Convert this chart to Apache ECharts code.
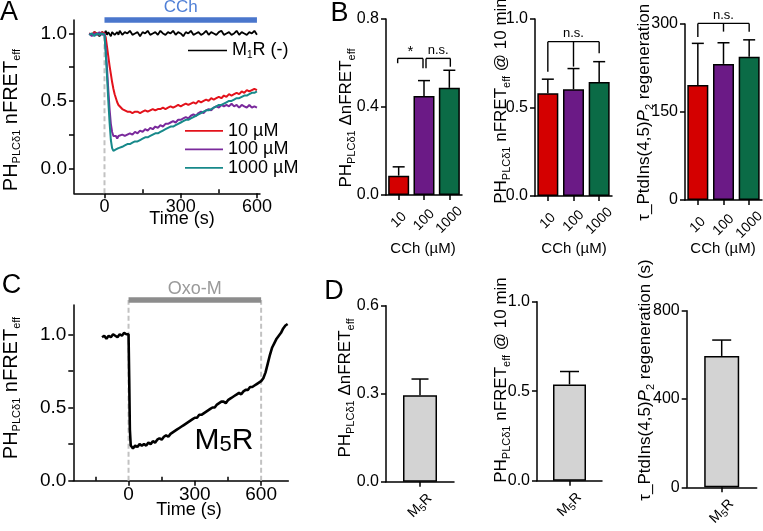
<!DOCTYPE html>
<html><head><meta charset="utf-8">
<script src="https://cdn.jsdelivr.net/npm/echarts@6/dist/echarts.min.js"></script>
<style>html,body{margin:0;padding:0;background:#fff}#c{width:763px;height:531px}</style>
</head><body><div id="c"></div><script>
// ---------------- DATA ----------------
const timeA = [-60,-50,-40,-30,-20,-10,0,5,10,15,20,25,30,35,40,45,50,55,60,
70,80,90,100,110,120,130,140,150,160,170,180,190,200,210,220,230,240,250,260,270,280,290,300,
310,320,330,340,350,360,370,380,390,400,410,420,430,440,450,460,470,480,490,500,510,520,530,540,
550,560,570,580,590,600];
const m1rNoAgonist = [1.00,0.99,1.01,1.00,0.98,1.01,
1.00,1.02,0.99,1.01,1.00,0.98,1.01,1.02,0.99,1.00,1.01,0.99,1.02,
0.99,1.01,1.00,1.02,0.99,1.00,1.01,0.98,1.01,1.00,
1.02,0.99,1.00,1.01,0.99,1.02,1.00,0.99,1.01,1.00,
1.02,0.99,1.01,1.00,0.98,1.01,1.00,1.02,0.99,1.00,
1.01,0.99,1.00,1.02,0.99,1.01,1.00,0.99,1.01,1.02,
0.99,1.00,1.01,0.99,1.00,1.02,0.99,1.01,1.00,0.99,
1.01,1.00,1.02,0.99];
const cch10 = [1.00,0.99,1.01,1.00,0.99,1.01,
1.00,0.97,0.90,0.83,0.76,0.70,0.64,0.59,0.55,0.52,0.49,0.47,0.46,
0.44,0.43,0.42,0.42,0.41,0.42,0.42,0.41,0.42,0.43,
0.42,0.43,0.44,0.43,0.44,0.44,0.45,0.44,0.45,0.46,
0.45,0.46,0.47,0.46,0.47,0.48,0.47,0.48,0.49,0.48,
0.50,0.49,0.50,0.51,0.50,0.52,0.51,0.52,0.53,0.52,
0.54,0.53,0.55,0.54,0.55,0.56,0.55,0.57,0.56,0.58,
0.57,0.58,0.59,0.58];
const cch100 = [1.00,0.98,1.00,0.99,1.01,0.99,
1.00,0.88,0.74,0.58,0.44,0.33,0.27,0.24,0.23,0.24,0.22,0.24,0.23,
0.25,0.24,0.25,0.26,0.25,0.27,0.26,0.28,0.27,0.29,
0.28,0.30,0.29,0.31,0.30,0.32,0.31,0.33,0.33,0.34,
0.35,0.34,0.36,0.36,0.37,0.38,0.37,0.39,0.40,0.39,
0.41,0.42,0.41,0.43,0.44,0.43,0.45,0.46,0.45,0.47,
0.46,0.47,0.46,0.48,0.46,0.47,0.45,0.47,0.46,0.45,
0.47,0.45,0.46,0.45];
const cch1000 = [0.99,1.00,0.98,1.00,0.99,1.00,
0.99,0.85,0.68,0.50,0.34,0.21,0.15,0.13,0.14,0.14,0.15,0.15,0.16,
0.16,0.17,0.18,0.18,0.19,0.20,0.20,0.21,0.22,0.23,
0.23,0.24,0.25,0.26,0.26,0.27,0.28,0.29,0.30,0.31,
0.31,0.32,0.33,0.34,0.35,0.36,0.36,0.37,0.38,0.39,
0.40,0.41,0.42,0.43,0.43,0.44,0.45,0.46,0.47,0.47,
0.48,0.49,0.50,0.50,0.51,0.52,0.52,0.53,0.54,0.54,
0.55,0.56,0.56,0.57];
const timeC = [-120,-110,-100,-90,-80,-70,-60,-50,-40,-30,-20,-10,0,3,6,
10,20,30,40,50,60,70,80,90,100,110,120,130,140,150,160,170,180,190,200,
210,220,230,240,250,260,270,280,290,300,310,320,330,340,350,360,370,380,390,400,
410,420,430,440,450,460,470,480,490,500,510,520,530,540,550,560,570,580,590,600,
610,620,630,640,650,660,670,680,690,700,710,720];
const m5rOxoM = [0.98,0.99,0.97,0.99,0.98,1.00,0.99,0.98,1.00,0.99,1.01,1.00,1.00,0.70,0.35,
0.24,0.22,0.24,0.23,0.25,0.24,0.25,0.24,0.26,0.25,
0.27,0.26,0.28,0.29,0.28,0.30,0.31,0.30,0.32,0.33,
0.34,0.35,0.36,0.37,0.38,0.39,0.40,0.41,0.42,0.43,
0.43,0.45,0.45,0.46,0.47,0.48,0.49,0.50,0.50,0.52,
0.53,0.54,0.54,0.53,0.55,0.56,0.57,0.58,0.59,0.60,
0.59,0.61,0.62,0.62,0.64,0.64,0.65,0.66,0.67,0.68,
0.70,0.74,0.80,0.86,0.91,0.94,0.97,0.99,1.01,1.04,
1.06,1.07];
const stimA = [[0, 600]];
const stimC = [[0, 600]];

const cchCategories = ['10', '100', '1000'];
const deltaMean = [0.088, 0.45, 0.487];
const deltaSem  = [0.040, 0.070, 0.080];
const tenMinMean = [0.58, 0.603, 0.644];
const tenMinSem  = [0.08, 0.117, 0.115];
const tauMean = [196, 232, 244];
const tauSem  = [71, 36, 29];

const m5Categories = ['M5R'];
const m5DeltaMean = [0.295];
const m5DeltaSem  = [0.055];
const m5TenMinMean = [0.538];
const m5TenMinSem  = [0.072];
const m5TauMean = [595];
const m5TauSem  = [72];

const yTicksA = [0, 0.25, 0.5, 0.75, 1.0];
const yLabelsA = [0, 0.5, 1.0];
const xTicksMajor = [0, 300, 600];
const xTicksMinorA = [150, 450];
const xTicksMinorC = [-150, 150, 450];

// significance annotations (category indices, y level in data units)
const bracketsB1 = [
  {cats:[0,1], dx:[-1,-1], y:0.621, legBottoms:[0.599,0.576], label:'*'},
  {cats:[1,2], dx:[2,1], y:0.621, legBottoms:[0.576,0.583], label:'n.s.'}
];
const bracketsB2 = [{cats:[0,1,2], dx:[0,0,0], y:0.872, legBottoms:[0.702,0.731,0.806], label:'n.s.'}];
const bracketsB3 = [{cats:[0,1,2], dx:[0,0,0], y:301, legBottoms:[278,287,287], label:'n.s.'}];

// ---------------- STYLE ----------------
const FONT = '"Liberation Sans", Arial, Helvetica, sans-serif';
const traceColors = {m1r:'#000000', c10:'#e3121b', c100:'#7a2a9c', c1000:'#17898a'};
const barColors = ['#d40000', '#6b1a86', '#0b6b46'];
const grayBar = '#d3d3d3';

const chart = echarts.init(document.getElementById('c'), null, {renderer:'canvas'});

function pairs(t, v){ return t.map((x,i)=>[x, v[i]]); }

const axLine = {show:true, onZero:false, lineStyle:{color:'#000', width:1.5}};
function valueY(gi, min, max, interval, fs, fmt, extra){
  return Object.assign({type:'value', gridIndex:gi, min, max, interval,
    axisLine:axLine, splitLine:{show:false},
    axisTick:{show:true, length:5, lineStyle:{color:'#000', width:1.5}},
    axisLabel:{color:'#000', fontSize:fs, fontFamily:FONT, margin:7, formatter:fmt}}, extra||{});
}
function catX(gi, cats, fs, margin, fmt, rich){
  return {type:'category', gridIndex:gi, data:cats, axisLine:axLine,
    axisTick:{show:true, alignWithLabel:true, length:5, lineStyle:{color:'#000', width:1.5}},
    axisLabel:{color:'#000', fontSize:fs, fontFamily:FONT, rotate:45, align:'center', verticalAlign:'middle',
      margin, interval:0, formatter:fmt, rich}};
}
function timeX(gi, min, max, fs){
  return {type:'value', gridIndex:gi, min, max, position:'bottom', axisLine:axLine, splitLine:{show:false},
    axisTick:{show:true, length:5, customValues:xTicksMajor, lineStyle:{color:'#000', width:1.5}},
    axisLabel:{color:'#000', fontSize:fs, fontFamily:FONT, margin:5, customValues:xTicksMajor}};
}
function minorX(gi, min, max, vals){
  return {type:'value', gridIndex:gi, min, max, position:'bottom', axisLine:{show:false, onZero:false}, splitLine:{show:false},
    axisTick:{show:true, inside:true, length:4, customValues:vals, lineStyle:{color:'#000', width:1.5}},
    axisLabel:{show:false}};
}
const f1 = v => v.toFixed(1);
const f0 = v => String(Math.round(v));

function errRender(capW){
  return function(params, api){
    const x = api.value(0), m = api.value(1), t = api.value(2);
    const p0 = api.coord([x, m]), p1 = api.coord([x, t]);
    const st = {stroke:'#000', lineWidth:1.5};
    return {type:'group', children:[
      {type:'line', shape:{x1:p0[0], y1:p0[1], x2:p1[0], y2:p1[1]}, style:st},
      {type:'line', shape:{x1:p1[0]-capW/2, y1:p1[1], x2:p1[0]+capW/2, y2:p1[1]}, style:st}
    ]};
  };
}
function errData(mean, sem){ return mean.map((m,i)=>[i, m, m+sem[i]]); }

function bracketRender(list){
  return function(params, api){
    const b = list[params.dataIndex];
    const st = {stroke:'#000', lineWidth:1.4};
    const pts = b.cats.map((c,i)=>{ const p = api.coord([c, b.y]); return [p[0]+b.dx[i], p[1]]; });
    const L = pts[0], R = pts[pts.length-1];
    const ch = [{type:'line', shape:{x1:L[0], y1:L[1], x2:R[0], y2:R[1]}, style:st}];
    b.cats.forEach((c,i)=>{
      const bot = api.coord([c, b.legBottoms[i]]);
      ch.push({type:'line', shape:{x1:pts[i][0], y1:pts[i][1], x2:pts[i][0], y2:bot[1]}, style:st});
    });
    const isStar = b.label === '*';
    ch.push({type:'text', x:(L[0]+R[0])/2, y:L[1] - (isStar ? 7 : 8),
      style:{text:b.label, fill:'#000', fontSize:isStar?15:13, fontFamily:FONT, align:'center', verticalAlign:'middle'}});
    return {type:'group', children:ch};
  };
}

function stimRender(spec){
  return function(params, api){
    const s = api.value(0), e = api.value(1);
    const a = api.coord([s, spec.barY]), b = api.coord([e, spec.barY]);
    const ch = [];
    spec.dashAt.forEach(t=>{
      const p = api.coord([t, spec.dashFrom]), q = api.coord([t, spec.dashTo]);
      ch.push({type:'line', shape:{x1:p[0], y1:p[1], x2:q[0], y2:q[1]},
        style:{stroke:'#c2c2c2', lineWidth:2, lineDash:[5,3]}});
    });
    ch.push({type:'rect', shape:{x:a[0], y:a[1]-2.75, width:b[0]-a[0], height:5.5}, style:{fill:spec.color}});
    ch.push({type:'text', x:(a[0]+b[0])/2, y:a[1]-spec.labelGap,
      style:{text:spec.label, fill:spec.labelColor, fontSize:spec.fs, fontFamily:FONT, align:'center', verticalAlign:'middle'}});
    return {type:'group', children:ch};
  };
}

function lineSeries(name, t, v, color, w){
  return {type:'line', name, xAxisIndex:0, yAxisIndex:0, data:pairs(t,v), symbol:'none', showSymbol:false,
    color, lineStyle:{color, width:w}, animation:false, silent:true};
}
function barSeries(xi, yi, vals, colors, bw){
  return {type:'bar', xAxisIndex:xi, yAxisIndex:yi, barWidth:bw, silent:true,
    data:vals.map((v,i)=>({value:v, itemStyle:{color:colors[i%colors.length], borderColor:'#000', borderWidth:1.5}}))};
}
function customS(xi, yi, data, render, z){
  return {type:'custom', xAxisIndex:xi, yAxisIndex:yi, data, renderItem:render, silent:true, clip:false, z:z==null?5:z};
}

// rich title helpers
function richT(main, sub){
  return {
    m:{fontSize:main, fontFamily:FONT, fill:'#000', color:'#000'},
    i:{fontSize:main, fontFamily:FONT, fontStyle:'italic', fill:'#000', color:'#000'},
    s:{fontSize:sub, fontFamily:FONT, fill:'#000', color:'#000', padding:[Math.round(sub*1.0),0,0,0]}
  };
}
const T_nFRET = '{m|PH}{s|PLCδ1}{m| nFRET}{s|eff}';
const T_dnFRET = '{m|PH}{s|PLCδ1}{m| ΔnFRET}{s|eff}';
const T_10min = '{m|PH}{s|PLCδ1}{m| nFRET}{s|eff}{m| @ 10 min}';
const T_tau = '{m|τ_PtdIns(4,5)}{i|P}{s|2}{m| regeneration (s)}';

function vtext(x, y, text, main, sub){
  return {type:'text', x, y, rotation:Math.PI/2, silent:true,
    style:{text, rich:richT(main, sub), align:'center', verticalAlign:'middle', fill:'#000'}};
}
function htext(x, y, text, fs, color){
  return {type:'text', x, y, silent:true,
    style:{text, fontSize:fs, fontFamily:FONT, fill:color||'#000', align:'center', verticalAlign:'middle'}};
}
const m5Rich = {a:{fontSize:14, fontFamily:FONT, color:'#000'}, s:{fontSize:10, fontFamily:FONT, color:'#000', padding:[8,0,0,0]}};
const m5Fmt = ()=>'{a|M}{s|5}{a|R}';

const option = {
  animation:false,
  backgroundColor:'#fff',
  grid:[
    {left:74, top:20, width:186, height:173.3, outerBoundsMode:'none'},
    {left:386, top:19, width:76, height:176, outerBoundsMode:'none'},
    {left:535, top:19, width:77, height:177, outerBoundsMode:'none'},
    {left:685, top:24, width:77, height:176, outerBoundsMode:'none'},
    {left:73.3, top:305, width:215, height:175.7, outerBoundsMode:'none'},
    {left:386, top:305.7, width:68, height:176, outerBoundsMode:'none'},
    {left:537, top:301.7, width:65, height:179, outerBoundsMode:'none'},
    {left:686.7, top:310.7, width:70, height:176.6, outerBoundsMode:'none'}
  ],
  xAxis:[
    timeX(0, -120, 612, 18),
    minorX(0, -120, 612, xTicksMinorA),
    catX(1, cchCategories, 14, 25),
    catX(2, cchCategories, 14, 25),
    catX(3, cchCategories, 14, 25),
    timeX(4, -250, 723, 19),
    minorX(4, -250, 723, xTicksMinorC),
    catX(5, m5Categories, 14, 24, m5Fmt, m5Rich),
    catX(6, m5Categories, 14, 24, m5Fmt, m5Rich),
    catX(7, m5Categories, 14, 24, m5Fmt, m5Rich)
  ],
  yAxis:[
    valueY(0, -0.185, 1.1, null, 19, f1, {axisTick:{show:true, length:5, customValues:yTicksA, lineStyle:{color:'#000', width:1.5}}, axisLabel:{color:'#000', fontSize:19, fontFamily:FONT, margin:7, formatter:f1, customValues:yLabelsA}}),
    valueY(1, 0, 0.8, 0.4, 16, f1),
    valueY(2, 0, 1.0, 0.5, 16, f1),
    valueY(3, 0, 300, 150, 16, f0),
    valueY(4, 0, 1.2, null, 19, f1, {axisTick:{show:true, length:5, customValues:yTicksA, lineStyle:{color:'#000', width:1.5}}, axisLabel:{color:'#000', fontSize:19, fontFamily:FONT, margin:7, formatter:f1, customValues:yLabelsA}}),
    valueY(5, 0, 0.6, 0.3, 16, f1),
    valueY(6, 0, 1.0, 0.5, 16, f1),
    valueY(7, 0, 800, 400, 16, f0)
  ],
  legend:[
    {data:['M1R (-)'], left:188, top:41.5, orient:'vertical', icon:'rect', itemWidth:39, itemHeight:1.6, padding:0, selectedMode:false,
      formatter:()=>'{a|M}{s|1}{a|R (-)}',
      textStyle:{rich:{a:{fontSize:18, fontFamily:FONT, color:'#000', lineHeight:20}, s:{fontSize:10, fontFamily:FONT, color:'#000', padding:[10,0,0,0]}}}},
    {data:['10 µM','100 µM','1000 µM'], left:185, top:121.8, orient:'vertical', icon:'rect', itemWidth:38, itemHeight:1.8, itemGap:0.5, padding:0, selectedMode:false,
      textStyle:{fontSize:18, fontFamily:FONT, color:'#000', lineHeight:15}}
  ],
  series:[
    // Panel A
    customS(0, 0, stimA, stimRender({barY:1.1, dashAt:[0], dashFrom:-0.185, dashTo:0.98, color:'#4a76cc', label:'CCh', labelColor:'#4f7fd6', labelGap:12.5, fs:17}), 1),
    lineSeries('M1R (-)', timeA, m1rNoAgonist, traceColors.m1r, 1.8),
    lineSeries('10 µM', timeA, cch10, traceColors.c10, 2),
    lineSeries('100 µM', timeA, cch100, traceColors.c100, 2),
    lineSeries('1000 µM', timeA, cch1000, traceColors.c1000, 2),
    // Panel B
    barSeries(2, 1, deltaMean, barColors, 21),
    customS(2, 1, errData(deltaMean, deltaSem), errRender(12)),
    customS(2, 1, bracketsB1.map(b=>[b.cats[0], b.y]), bracketRender(bracketsB1)),
    barSeries(3, 2, tenMinMean, barColors, 21),
    customS(3, 2, errData(tenMinMean, tenMinSem), errRender(12)),
    customS(3, 2, bracketsB2.map(b=>[b.cats[0], b.y]), bracketRender(bracketsB2)),
    barSeries(4, 3, tauMean, barColors, 21),
    customS(4, 3, errData(tauMean, tauSem), errRender(12)),
    customS(4, 3, bracketsB3.map(b=>[b.cats[0], b.y]), bracketRender(bracketsB3)),
    // Panel C
    customS(5, 4, stimC, stimRender({barY:1.234, dashAt:[0,600], dashFrom:0, dashTo:1.234, color:'#8c8c8c', label:'Oxo-M', labelColor:'#9a9a9a', labelGap:11, fs:18}), 1),
    {type:'line', name:'M5R', xAxisIndex:5, yAxisIndex:4, data:pairs(timeC, m5rOxoM), symbol:'none', showSymbol:false,
      lineStyle:{color:'#000', width:2.6}, color:'#000', silent:true},
    // Panel D
    barSeries(7, 5, m5DeltaMean, [grayBar], 34),
    customS(7, 5, errData(m5DeltaMean, m5DeltaSem), errRender(17)),
    barSeries(8, 6, m5TenMinMean, [grayBar], 33),
    customS(8, 6, errData(m5TenMinMean, m5TenMinSem), errRender(19)),
    barSeries(9, 7, m5TauMean, [grayBar], 35),
    customS(9, 7, errData(m5TauMean, m5TauSem), errRender(19))
  ],
  graphic:[
    htext(9, 13, 'A', 27), htext(339.5, 13.5, 'B', 27), htext(11.5, 286, 'C', 27), htext(334, 291.5, 'D', 27),
    htext(182, 219, 'Time (s)', 18), htext(189, 510, 'Time (s)', 18),
    htext(423, 249, 'CCh (µM)', 15), htext(574, 249, 'CCh (µM)', 15), htext(723, 249, 'CCh (µM)', 15),
    {type:'text', x:224, y:441, silent:true, style:{text:'{a|M}{s|5}{a|R}', align:'center', verticalAlign:'middle',
      rich:{a:{fontSize:30, fontFamily:FONT, fill:'#000'}, s:{fontSize:22, fontFamily:FONT, fill:'#000', padding:[8,0,0,0]}}}},
    vtext(11, 120, T_nFRET, 20, 11),
    vtext(11, 388, T_nFRET, 20, 11),
    vtext(346, 118, T_dnFRET, 17, 11),
    vtext(501, 101, T_10min, 17, 11),
    vtext(644, 100, T_tau, 17, 11),
    vtext(345, 388, T_dnFRET, 17, 11),
    vtext(501, 380, T_10min, 17, 11),
    vtext(645, 380, T_tau, 17, 11)
  ]
};
chart.setOption(option);
</script></body></html>
